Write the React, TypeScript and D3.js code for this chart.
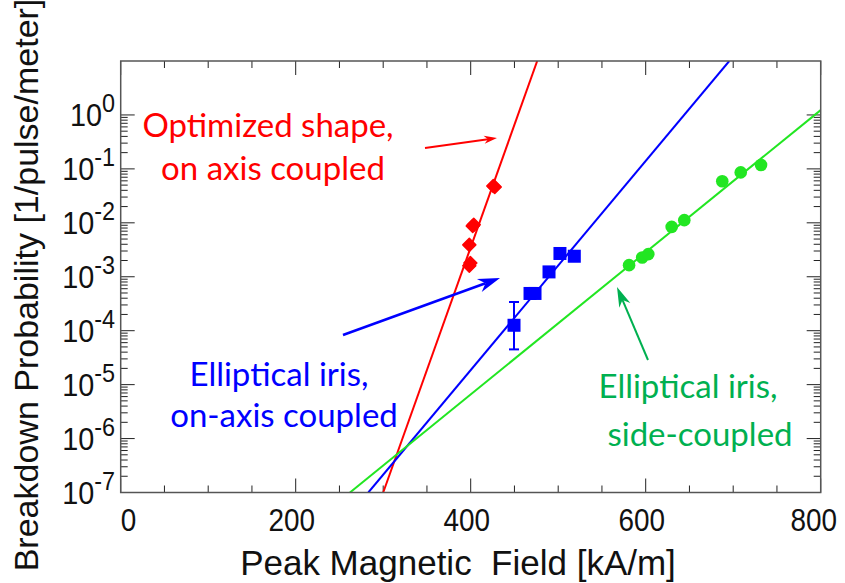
import React from 'react';
import * as d3 from 'd3';

const W = 845;
const H = 583;
const plot = { left: 120.7, right: 820.7, top: 61, bottom: 492.5 };

// Axis ticks
const xMajorTicks = [0, 200, 400, 600, 800];
const xTickLabels = ['0', '200', '400', '600', '800'];
const xMinorStep = 50;
const yDecades = [0, -1, -2, -3, -4, -5, -6, -7];

// Optimized shape, on-axis coupled (diamonds)
const redField = [425.8, 427.5, 402.3, 403.5, 398.4, 398.4, 399.6];
const redProb = [0.048, 0.046, 0.0087, 0.0092, 0.0039, 0.0016, 0.0018];

// Elliptical iris, on-axis coupled (squares)
const blueField = [449.5, 467.8, 473.5, 489.5, 502, 518.4];
const blueProb = [1.26e-4, 4.9e-4, 4.9e-4, 1.23e-3, 2.7e-3, 2.4e-3];
const blueErrField = [449.5];
const blueErrLow = [4.5e-5];
const blueErrHigh = [3.4e-4];

// Elliptical iris, side-coupled (circles)
const greenField = [581, 596, 603, 629.7, 644.1, 687.5, 708.6, 731.8];
const greenProb = [1.64e-3, 2.28e-3, 2.63e-3, 8.4e-3, 0.0112, 0.059, 0.086, 0.118];

// Exponential fits: end points of each straight line on the log axis
const redFitField = [300, 476];
const redFitProb = [1e-7, 10];
const blueFitField = [283, 695.5];
const blueFitProb = [1e-7, 10];
const greenFitField = [262, 800];
const greenFitProb = [1e-7, 1.23];

const RED = '#ff0000';
const BLUE = '#0000ff';
const GREEN = '#22e622';
const GREEN_TEXT = '#00b050';

const x = d3.scaleLinear().domain([0, 800]).range([plot.left, plot.right]);
const y = d3.scaleLog().domain([1e-7, 10]).range([plot.bottom, plot.top]);

const axisFont = '"Liberation Sans", Arial, sans-serif';
const noteFont = 'Lato, "Open Sans", sans-serif';
const condense = 0.9;

function fitPath(fx: number[], fy: number[]) {
  const line = d3
    .line<number>()
    .x((_, i) => x(fx[i]))
    .y((_, i) => y(fy[i]));
  return line(fx.map((_, i) => i)) || '';
}

function Arrow({ x1, y1, x2, y2, color, width, head, headW }: any) {
  const dx = x2 - x1;
  const dy = y2 - y1;
  const len = Math.hypot(dx, dy);
  const ux = dx / len;
  const uy = dy / len;
  const px = -uy;
  const py = ux;
  const bx = x2 - ux * head;
  const by = y2 - uy * head;
  const nx = x2 - ux * head * 0.7;
  const ny = y2 - uy * head * 0.7;
  const pts = [
    [x2, y2],
    [bx + px * headW, by + py * headW],
    [nx, ny],
    [bx - px * headW, by - py * headW],
  ];
  return (
    <g>
      <line x1={x1} y1={y1} x2={nx} y2={ny} stroke={color} strokeWidth={width} />
      <polygon points={pts.map((p) => p.join(',')).join(' ')} fill={color} />
    </g>
  );
}

export default function App() {
  const xMinor = d3.range(0, 801, xMinorStep).filter((v) => v % 200 !== 0);
  const yMinor: number[] = [];
  for (let k = -7; k <= -1; k++) {
    for (let m = 2; m <= 9; m++) yMinor.push(m * Math.pow(10, k));
  }
  const yMajor = yDecades.map((e) => Math.pow(10, e));

  return (
    <svg
      width={W}
      height={H}
      viewBox={`0 0 ${W} ${H}`}
      style={{ position: 'absolute', left: 0, top: 0, background: '#fff' }}
    >
      <defs>
        <clipPath id="plotArea">
          <rect x={plot.left} y={plot.top} width={plot.right - plot.left} height={plot.bottom - plot.top} />
        </clipPath>
      </defs>
      <rect x={0} y={0} width={W} height={H} fill="#fff" />

      {/* ticks on all four sides */}
      <g stroke="#222" strokeWidth={1}>
        {xMajorTicks.map((v) => (
          <g key={'xm' + v}>
            <line x1={x(v)} x2={x(v)} y1={plot.bottom} y2={plot.bottom - 14} />
            <line x1={x(v)} x2={x(v)} y1={plot.top} y2={plot.top + 14} />
          </g>
        ))}
        {xMinor.map((v) => (
          <g key={'xn' + v}>
            <line x1={x(v)} x2={x(v)} y1={plot.bottom} y2={plot.bottom - 7} />
            <line x1={x(v)} x2={x(v)} y1={plot.top} y2={plot.top + 7} />
          </g>
        ))}
        {yMajor.map((v) => (
          <g key={'ym' + v}>
            <line x1={plot.left} x2={plot.left + 14} y1={y(v)} y2={y(v)} />
            <line x1={plot.right} x2={plot.right - 14} y1={y(v)} y2={y(v)} />
          </g>
        ))}
        {yMinor.map((v) => (
          <g key={'yn' + v}>
            <line x1={plot.left} x2={plot.left + 7} y1={y(v)} y2={y(v)} />
            <line x1={plot.right} x2={plot.right - 7} y1={y(v)} y2={y(v)} />
          </g>
        ))}
      </g>

      {/* fitted lines */}
      <g clipPath="url(#plotArea)" fill="none" strokeWidth={2}>
        <path d={fitPath(redFitField, redFitProb)} stroke={RED} />
        <path d={fitPath(blueFitField, blueFitProb)} stroke={BLUE} />
        <path d={fitPath(greenFitField, greenFitProb)} stroke={GREEN} />
      </g>

      {/* error bar */}
      <g stroke={BLUE} strokeWidth={2}>
        {blueErrField.map((f, i) => (
          <g key={'eb' + i}>
            <line x1={x(f)} x2={x(f)} y1={y(blueErrLow[i])} y2={y(blueErrHigh[i])} />
            <line x1={x(f) - 5} x2={x(f) + 5} y1={y(blueErrLow[i])} y2={y(blueErrLow[i])} />
            <line x1={x(f) - 5} x2={x(f) + 5} y1={y(blueErrHigh[i])} y2={y(blueErrHigh[i])} />
          </g>
        ))}
      </g>

      {/* markers */}
      <g fill={RED}>
        {redField.map((f, i) => {
          const cx = x(f);
          const cy = y(redProb[i]);
          const r = 6.5;
          return (
            <polygon
              key={'r' + i}
              points={`${cx},${cy - r} ${cx + r},${cy} ${cx},${cy + r} ${cx - r},${cy}`}
              stroke={RED}
              strokeWidth={1.5}
              strokeLinejoin="round"
            />
          );
        })}
      </g>
      <g fill={BLUE}>
        {blueField.map((f, i) => (
          <rect key={'b' + i} x={x(f) - 6.5} y={y(blueProb[i]) - 6.5} width={13} height={13} />
        ))}
      </g>
      <g fill={GREEN}>
        {greenField.map((f, i) => (
          <circle key={'g' + i} cx={x(f)} cy={y(greenProb[i])} r={6.3} />
        ))}
      </g>

      {/* frame */}
      <rect
        x={plot.left}
        y={plot.top}
        width={plot.right - plot.left}
        height={plot.bottom - plot.top}
        fill="none"
        stroke="#555"
        strokeWidth={1.5}
      />

      {/* x tick labels (slightly condensed) */}
      <g fontFamily={axisFont} fontSize={31} fill="#111">
        {xMajorTicks.map((v, i) => (
          <text
            key={'xl' + v}
            transform={`translate(${x(v) + (i === 0 ? 0 : i === xMajorTicks.length - 1 ? -7 : -4)},531) scale(${condense},1)`}
            textAnchor={i === 0 ? 'start' : 'middle'}
          >
            {xTickLabels[i]}
          </text>
        ))}
      </g>

      {/* y tick labels */}
      <g fontFamily={axisFont} fill="#111">
        {yDecades.map((e) => (
          <text
            key={'yl' + e}
            transform={`translate(115,${y(Math.pow(10, e)) + 11}) scale(${condense},1)`}
            textAnchor="end"
            fontSize={32}
          >
            10
            <tspan dy={-14} fontSize={26}>
              {String(e)}
            </tspan>
          </text>
        ))}
      </g>

      {/* axis titles */}
      <text
        x={458}
        y={575}
        textAnchor="middle"
        fontFamily={axisFont}
        fontSize={35}
        fill="#111"
        style={{ whiteSpace: 'pre' }}
      >
        {'Peak Magnetic  Field [kA/m]'}
      </text>
      <text
        transform="translate(38,285) rotate(-90)"
        textAnchor="middle"
        fontFamily={axisFont}
        fontSize={34}
        fill="#111"
      >
        Breakdown Probability [1/pulse/meter]
      </text>

      {/* annotations */}
      <g fontFamily={noteFont} fontSize={33} textAnchor="middle">
        <text x={268} y={137} fill={RED}>Optimized shape,</text>
        <text x={273} y={180} fill={RED}>on axis coupled</text>
        <text x={279} y={386} fill={BLUE}>Elliptical iris,</text>
        <text x={284} y={427} fill={BLUE}>on-axis coupled</text>
        <text x={688} y={398} fill={GREEN_TEXT}>Elliptical iris,</text>
        <text x={700} y={446} fill={GREEN_TEXT}>side-coupled</text>
      </g>

      <Arrow x1={425} y1={148} x2={497} y2={138} color={RED} width={1.8} head={13} headW={4} />
      <Arrow x1={343} y1={335} x2={500} y2={278} color={BLUE} width={2.5} head={22} headW={7} />
      <Arrow x1={648} y1={360} x2={617} y2={287} color={GREEN_TEXT} width={2} head={20} headW={6} />
    </svg>
  );
}
